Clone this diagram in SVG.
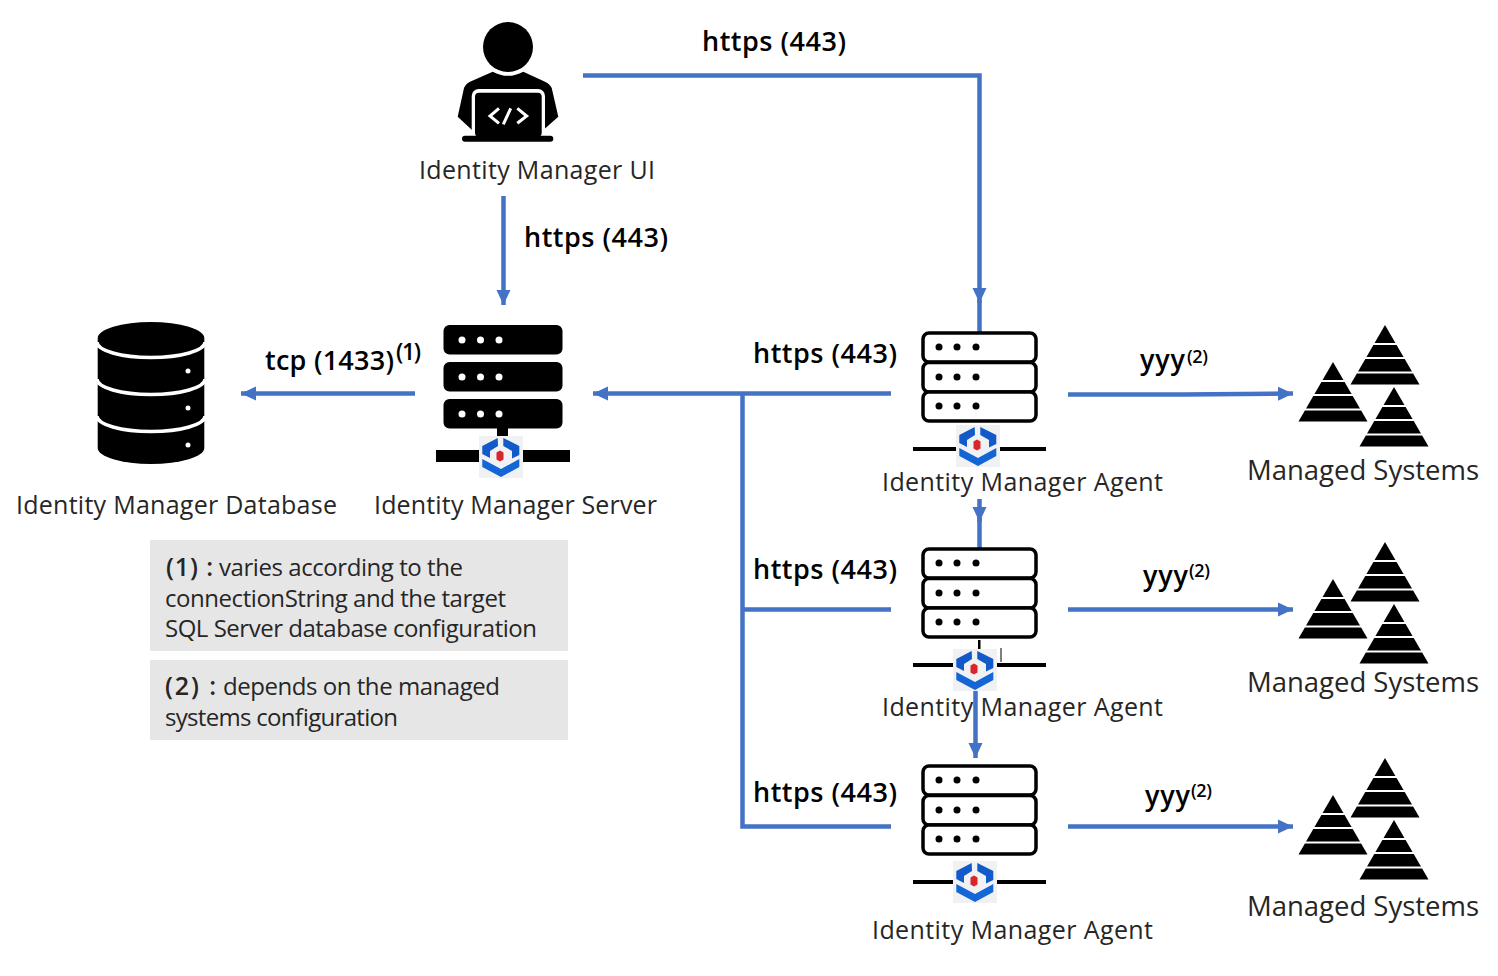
<svg xmlns="http://www.w3.org/2000/svg" width="1498" height="976" viewBox="0 0 1498 976">
<style>
text{font-family:"Open Sans","Noto Sans","Liberation Sans",sans-serif;fill:#262626}
.n{font-size:25px}
.l{font-size:27px;font-weight:600;fill:#000}
.m{font-size:27.500px}
.t{font-size:24px}
.b{font-size:25px;font-weight:600;fill:#262626}
.s{font-size:18px;font-weight:600;fill:#000}
.c{fill:none;stroke:#4472C4;stroke-width:4.500}
.row{fill:#fff;stroke:#000;stroke-width:3.500}
</style>
<defs>
<marker id="a" markerUnits="userSpaceOnUse" markerWidth="16" markerHeight="16" refX="15" refY="8" orient="auto"><path d="M0 1 15 8 0 15 Z" fill="#4472C4"/></marker>
<g id="logo">
<rect width="44" height="42" fill="#EFF1F3"/>
<path d="M3.300 10 18.700 2 19 10 11 15 11 22 3.300 18Z" fill="#1259C9"/>
<path d="M24.300 2 40.300 10 40.300 19 33 22.600 33 15 24.300 10Z" fill="#1259C9"/>
<path d="M3.300 23 22 33 40.300 23 40.300 31 22 41 3.300 31Z" fill="#1465D6"/>
<path d="M21 14.500 24.500 16.500V23.500L21 25.500 17.500 23.500V16.500Z" fill="#D9252B"/>
</g>
<g id="srv">
<rect class="row" x="923" y="333" width="113" height="29" rx="6"/>
<rect class="row" x="923" y="362.500" width="113" height="29.500" rx="6"/>
<rect class="row" x="923" y="392" width="113" height="29" rx="6"/>
<circle cx="939" cy="347" r="3.500"/><circle cx="957" cy="347" r="3.500"/><circle cx="976" cy="347" r="3.500"/>
<circle cx="939" cy="377" r="3.500"/><circle cx="957" cy="377" r="3.500"/><circle cx="976" cy="377" r="3.500"/>
<circle cx="939" cy="406" r="3.500"/><circle cx="957" cy="406" r="3.500"/><circle cx="976" cy="406" r="3.500"/>
<rect x="913" y="447" width="133" height="4"/>
</g>
<g id="pyr">
<path d="M34.500 0 69 59.500H0Z"/>
<path d="M6 47.500H63M14.500 33H54.500M22.500 19H46.500" stroke="#fff" stroke-width="1.800"/>
</g>
<g id="sys">
<use href="#pyr" x="1350.500" y="325"/>
<use href="#pyr" x="1298.500" y="362"/>
<use href="#pyr" x="1359.500" y="387"/>
</g>
</defs>

<g id="connectors">
<path class="c" d="M583 75.500H979.500V303" marker-end="url(#a)"/>
<path class="c" d="M979.500 300V332"/>
<path class="c" d="M503.500 196V305" marker-end="url(#a)"/>
<path class="c" d="M415 393.500H241" marker-end="url(#a)"/>
<path class="c" d="M891 393.500H593" marker-end="url(#a)"/>
<path class="c" d="M742.500 393.500V826.500H891M742.500 609.500H891"/>
<path class="c" d="M1068 394.500 1183 394.500 1293 393.500" marker-end="url(#a)"/>
<path class="c" d="M1068 609.500H1293" marker-end="url(#a)"/>
<path class="c" d="M1068 826.500H1293" marker-end="url(#a)"/>
<path class="c" d="M979.500 499V522" marker-end="url(#a)"/>
<path class="c" d="M979.500 518V548"/>
<path class="c" d="M975.500 691V758" marker-end="url(#a)"/>
</g>

<g id="ui">
<circle cx="508" cy="47" r="25"/>
<path d="M492.700 71.700Q508 80 523.300 71.700L545 81.700Q550 84 551.700 88L558.300 116.700 543.300 130H472L457.700 116.700 464 88Q465.500 84 470 81.700Z"/>
<rect x="471.700" y="89" width="73.300" height="48" rx="7" fill="#fff"/>
<rect x="475" y="92.700" width="66.700" height="44" rx="4"/>
<rect x="462" y="135.700" width="91.300" height="6" rx="3"/>
<path d="M499 108.300 490 116 499 123.300M510.700 108.300 503.300 124.300M517.300 108.300 526.700 116 517.300 123.300" fill="none" stroke="#fff" stroke-width="3"/>
<text class="n" x="419" y="179" textLength="236">Identity Manager UI</text>
</g>

<g id="database">
<path d="M97.700 338A53.300 16 0 0 1 204.300 338V448A53.300 16 0 0 1 97.700 448Z"/>
<path d="M97 342A54 15.500 0 0 0 205 342M97 379A54 15.500 0 0 0 205 379M97 416A54 15.500 0 0 0 205 416" fill="none" stroke="#fff" stroke-width="3.500"/>
<circle cx="188" cy="371" r="2.500" fill="#fff"/><circle cx="188" cy="408" r="2.500" fill="#fff"/><circle cx="188" cy="445" r="2.500" fill="#fff"/>
<text class="n" x="16" y="514" textLength="321">Identity Manager Database</text>
</g>

<g id="server">
<rect x="443.500" y="325" width="119" height="29.500" rx="6"/>
<rect x="443.500" y="362" width="119" height="29.500" rx="6"/>
<rect x="443.500" y="399" width="119" height="29.500" rx="6"/>
<g fill="#fff">
<circle cx="462" cy="340" r="3.500"/><circle cx="480.500" cy="340" r="3.500"/><circle cx="499" cy="340" r="3.500"/>
<circle cx="462" cy="377" r="3.500"/><circle cx="480.500" cy="377" r="3.500"/><circle cx="499" cy="377" r="3.500"/>
<circle cx="462" cy="414" r="3.500"/><circle cx="480.500" cy="414" r="3.500"/><circle cx="499" cy="414" r="3.500"/>
</g>
<rect x="497" y="428" width="11" height="8"/>
<rect x="436" y="450" width="134" height="12"/>
<use href="#logo" x="479" y="436"/>
<text class="n" x="374" y="514" textLength="283">Identity Manager Server</text>
</g>

<g id="agent1">
<use href="#srv"/>
<use href="#logo" x="956" y="425"/>
<text class="n" x="882" y="491" textLength="281">Identity Manager Agent</text>
</g>
<g id="agent2">
<use href="#srv" y="216"/>
<rect x="978" y="640" width="2.500" height="9"/>
<rect x="1000.500" y="648" width="1" height="14"/>
<use href="#logo" x="953" y="649"/>
<text class="n" x="882" y="716" textLength="281">Identity Manager Agent</text>
</g>
<g id="agent3">
<use href="#srv" y="433"/>
<use href="#logo" x="953" y="861"/>
<text class="n" x="872" y="939" textLength="281">Identity Manager Agent</text>
</g>

<g id="systems1"><use href="#sys"/><text class="m" x="1247" y="480" textLength="232">Managed Systems</text></g>
<g id="systems2"><use href="#sys" y="217"/><text class="m" x="1247" y="692" textLength="232">Managed Systems</text></g>
<g id="systems3"><use href="#sys" y="433"/><text class="m" x="1247" y="916" textLength="232">Managed Systems</text></g>

<g id="labels">
<text class="l" x="702" y="51" textLength="144">https (443)</text>
<text class="l" x="524" y="247" textLength="144">https (443)</text>
<text class="l" x="753" y="363" textLength="144">https (443)</text>
<text class="l" x="753" y="579" textLength="144">https (443)</text>
<text class="l" x="753" y="802" textLength="144">https (443)</text>
<text class="l" x="265" y="370" textLength="129">tcp (1433)</text>
<text class="s" style="font-size:23px" x="396" y="360" textLength="25">(1)</text>
<text class="l" x="1140" y="369" textLength="45">yyy</text><text class="s" x="1187" y="363" textLength="21">(2)</text>
<text class="l" x="1143" y="585" textLength="45">yyy</text><text class="s" x="1189" y="577" textLength="21">(2)</text>
<text class="l" x="1145" y="805" textLength="45">yyy</text><text class="s" x="1191" y="797" textLength="21">(2)</text>
</g>

<g id="note1">
<rect x="150" y="540" width="418" height="111" fill="#E7E6E6"/>
<text class="b" x="166" y="576" textLength="47">(1) :</text>
<text class="t" x="219" y="576" textLength="244">varies according to the</text>
<text class="t" x="165" y="607" textLength="341">connectionString and the target</text>
<text class="t" x="165" y="637" textLength="372">SQL Server database configuration</text>
</g>
<g id="note2">
<rect x="150" y="660" width="418" height="80" fill="#E7E6E6"/>
<text class="b" x="165" y="695" textLength="51">(2) :</text>
<text class="t" x="223" y="695" textLength="277">depends on the managed</text>
<text class="t" x="165" y="726" textLength="233">systems configuration</text>
</g>
</svg>
